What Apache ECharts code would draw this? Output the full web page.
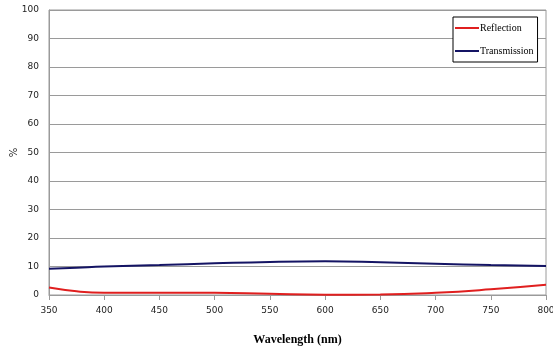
<!DOCTYPE html>
<html><head><meta charset="utf-8">
<script src="https://cdn.jsdelivr.net/npm/echarts@6/dist/echarts.min.js"></script>
<style>html,body{margin:0;padding:0;background:#fff}#c{width:553px;height:349px}</style>
</head><body><div id="c"></div>
<script>
const wavelengths = [350, 375, 400, 450, 500, 550, 600, 650, 700, 750, 800];
const reflection = [2.6, 1.3, 0.8, 0.8, 0.8, 0.4, 0.1, 0.2, 0.8, 2.0, 3.6];
const transmission = [9.2, 9.6, 10.0, 10.5, 11.1, 11.6, 11.8, 11.5, 11.0, 10.5, 10.2];
const xTicks = [350, 400, 450, 500, 550, 600, 650, 700, 750, 800];
const yTicks = [0, 10, 20, 30, 40, 50, 60, 70, 80, 90, 100];

const chart = echarts.init(document.getElementById('c'));
chart.setOption({
  animation: false,
  backgroundColor: '#fff',
  grid: {left: 49, right: 7, top: 10, bottom: 54, show: true, borderColor: '#9a9a9a', borderWidth: 1, containLabel: false, outerBoundsMode: 'none'},
  legend: {
    orient: 'vertical', left: 453, top: 17, width: 85,
    backgroundColor: '#fff', borderColor: '#000', borderWidth: 1,
    padding: [6, 4, 6, 2], itemGap: 13, itemWidth: 24, itemHeight: 8,
    textStyle: {fontFamily: 'Liberation Serif', fontSize: 10, color: '#000', padding: [0, 0, 0, -4]},
    data: [{name: 'Reflection', icon: 'path://M0,4h24v2h-24z'}, {name: 'Transmission', icon: 'path://M0,4h24v2h-24z'}]
  },
  xAxis: {
    type: 'value', min: xTicks[0], max: xTicks[xTicks.length - 1], interval: 50,
    name: 'Wavelength (nm)', nameLocation: 'middle', nameGap: 39,
    nameTextStyle: {fontFamily: 'Liberation Serif', fontWeight: 'bold', fontSize: 12, color: '#000'},
    axisLine: {lineStyle: {color: '#9a9a9a'}},
    axisTick: {show: true, length: 5, lineStyle: {color: '#9a9a9a'}},
    splitLine: {show: false},
    axisLabel: {fontFamily: 'DejaVu Sans', fontSize: 9, color: '#222', margin: 11}
  },
  yAxis: {
    type: 'value', min: yTicks[0], max: yTicks[yTicks.length - 1], interval: 10,
    name: '%', nameLocation: 'middle', nameGap: 30, nameRotate: 90, nameMoveOverlap: false,
    nameTextStyle: {fontFamily: 'DejaVu Sans', fontSize: 10, color: '#222'},
    axisLine: {show: true, lineStyle: {color: '#9a9a9a'}},
    axisTick: {show: false},
    splitLine: {show: true, lineStyle: {color: '#9a9a9a'}},
    axisLabel: {fontFamily: 'DejaVu Sans', fontSize: 9, color: '#222', margin: 10}
  },
  series: [
    {name: 'Reflection', type: 'line', smooth: true, symbol: 'none', data: wavelengths.map((w, i) => [w, reflection[i]]), lineStyle: {color: '#e01f1f', width: 2}, itemStyle: {color: '#e01f1f'}},
    {name: 'Transmission', type: 'line', smooth: true, symbol: 'none', data: wavelengths.map((w, i) => [w, transmission[i]]), lineStyle: {color: '#141464', width: 2}, itemStyle: {color: '#141464'}}
  ]
});
</script></body></html>
